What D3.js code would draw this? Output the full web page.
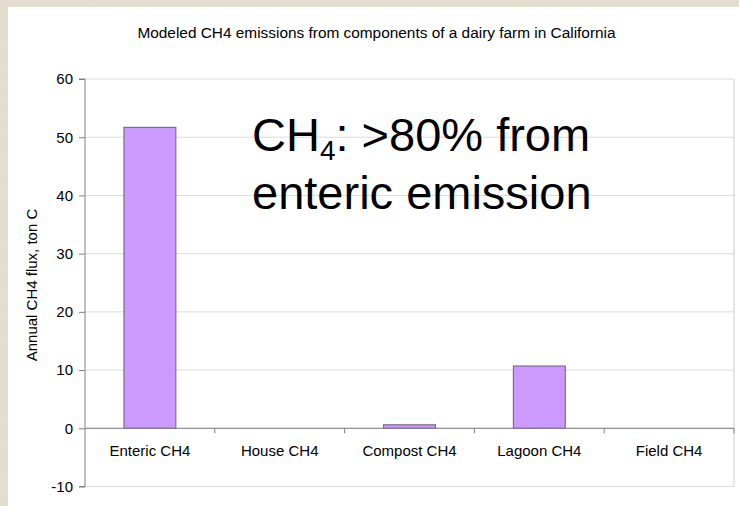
<!DOCTYPE html>
<html>
<head>
<meta charset="utf-8">
<script src="https://cdn.jsdelivr.net/npm/d3@7"></script>
<style>
  html, body { margin: 0; padding: 0; background: #e1d8c8; }
  svg { display: block; font-family: "Liberation Sans", Arial, sans-serif; }
</style>
</head>
<body>
<svg id="chart" width="739" height="506"></svg>
<script>
// ---- data ----
const categories = ["Enteric CH4", "House CH4", "Compost CH4", "Lagoon CH4", "Field CH4"];
const values = [51.7, 0, 0.6, 10.7, 0];
const yTicks = [-10, 0, 10, 20, 30, 40, 50, 60];
const titleText = "Modeled CH4 emissions from components of a dairy farm in California";
const yAxisLabel = "Annual CH4 flux, ton C";
const noteLine1 = ["CH", "4", ": >80% from"];
const noteLine2 = "enteric emission";

// ---- layout ----
const W = 739, H = 506;
const plot = { left: 85, right: 734, top: 79, bottom: 486.5 };

const svg = d3.select("#chart");

// textured background
const defs = svg.append("defs");
const filt = defs.append("filter").attr("id", "marble").attr("x", 0).attr("y", 0).attr("width", "100%").attr("height", "100%");
filt.append("feTurbulence").attr("type", "fractalNoise").attr("baseFrequency", "0.02 0.08").attr("numOctaves", 3).attr("seed", 4).attr("result", "noise");
filt.append("feColorMatrix").attr("in", "noise").attr("type", "matrix")
  .attr("values", "0 0 0 0 0.80  0 0 0 0 0.76  0 0 0 0 0.68  0 0 0 0.9 -0.25");
svg.append("rect").attr("width", W).attr("height", H).attr("fill", "#e4dccd");
svg.append("rect").attr("width", W).attr("height", H).attr("filter", "url(#marble)").attr("opacity", 0.6);

// white panel
svg.append("rect").attr("x", 8).attr("y", 7).attr("width", W).attr("height", H).attr("fill", "#ffffff");

// scales
const x = d3.scaleBand().domain(categories).range([plot.left, plot.right]).paddingInner(0.6).paddingOuter(0.3);
const xBounds = d3.scaleBand().domain(categories).range([plot.left, plot.right]).padding(0);
const y = d3.scaleLinear().domain([-10, 60]).range([plot.bottom, plot.top]);

// gridlines
svg.append("g").selectAll("line").data(yTicks).join("line")
  .attr("x1", plot.left).attr("x2", plot.right)
  .attr("y1", d => y(d)).attr("y2", d => y(d))
  .attr("stroke", "#dcdcdc").attr("stroke-width", 1);

// plot area right border
svg.append("line").attr("x1", plot.right).attr("x2", plot.right)
  .attr("y1", y(60)).attr("y2", y(-10)).attr("stroke", "#cfcfcf");

// bars
svg.append("g").selectAll("rect").data(values.map((v, i) => ({ c: categories[i], v })).filter(d => d.v !== 0)).join("rect")
  .attr("x", d => x(d.c)).attr("width", x.bandwidth())
  .attr("y", d => y(Math.max(0, d.v))).attr("height", d => Math.abs(y(d.v) - y(0)))
  .attr("fill", "#cc99ff").attr("stroke", "#6e5a86").attr("stroke-width", 1);

// y axis
const yAxis = d3.axisLeft(y).tickValues(yTicks).tickSize(6).tickPadding(6).tickFormat(d => String(d));
const yg = svg.append("g").attr("transform", `translate(${plot.left},0)`).call(yAxis);
yg.select(".domain").attr("stroke", "#808080").attr("d", `M-6,${y(60)}H0V${y(-10)}H-6`);
yg.selectAll(".tick line").attr("stroke", "#808080");
yg.selectAll(".tick text").attr("fill", "#000").attr("font-size", 15)
  .attr("font-family", "Liberation Sans, Arial, sans-serif");

// x axis at zero
const xAxis = d3.axisBottom(xBounds).tickSize(0).tickPadding(0);
const xg = svg.append("g").attr("transform", `translate(0,${y(0)})`).call(xAxis);
xg.select(".domain").attr("stroke", "#808080").attr("d", `M${plot.left},0H${plot.right}`);
xg.selectAll(".tick text").attr("fill", "#000").attr("font-size", 15)
  .attr("font-family", "Liberation Sans, Arial, sans-serif").attr("y", 28).attr("dy", 0);
// category boundary tick marks
svg.append("g").selectAll("line").data(categories.slice(1).concat(["__end"])).join("line")
  .attr("x1", d => d === "__end" ? plot.right : xBounds(d))
  .attr("x2", d => d === "__end" ? plot.right : xBounds(d))
  .attr("y1", y(0)).attr("y2", y(0) + 5)
  .attr("stroke", "#808080");

// title
svg.append("text").attr("x", 376.5).attr("y", 38).attr("text-anchor", "middle")
  .attr("font-size", 15.4).attr("fill", "#000").text(titleText);

// y-axis label
svg.append("text").attr("transform", "translate(37,285) rotate(-90)").attr("text-anchor", "middle")
  .attr("font-size", 15).attr("fill", "#000").text(yAxisLabel);

// annotation (one text element, two lines)
const note = svg.append("text").attr("x", 252).attr("y", 151).attr("font-size", 47).attr("fill", "#000");
note.append("tspan").text(noteLine1[0]);
note.append("tspan").attr("font-size", 28).attr("dy", 9).text(noteLine1[1]);
note.append("tspan").attr("dy", -9).text(noteLine1[2]);
note.append("tspan").attr("x", 252).attr("y", 209).text(noteLine2);
</script>
</body>
</html>
